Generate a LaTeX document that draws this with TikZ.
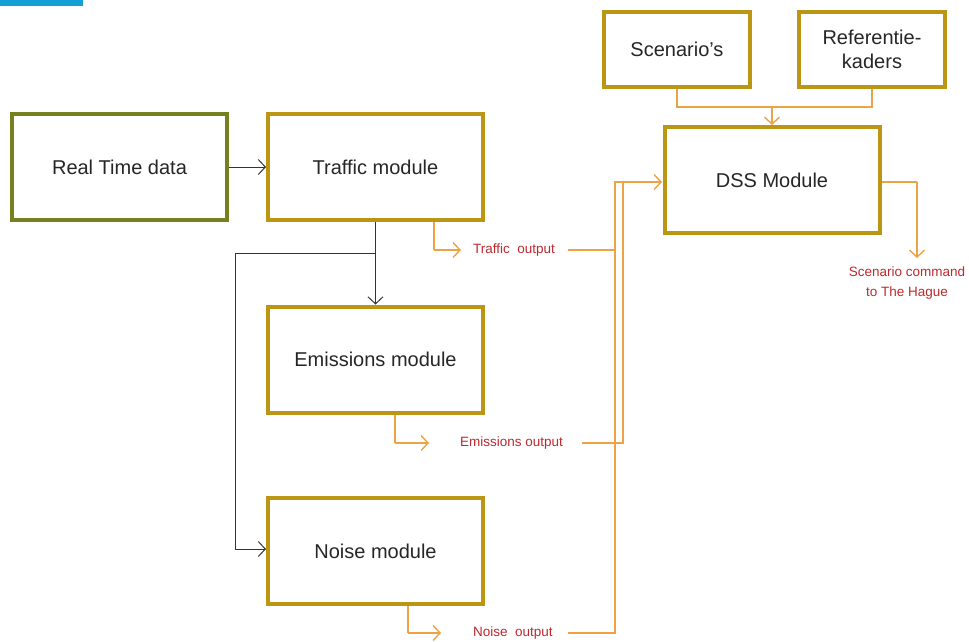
\documentclass[tikz,border=0pt]{standalone}
\usepackage{fontspec}
\setmainfont{Liberation Sans}
\usetikzlibrary{arrows.meta}
\definecolor{gold}{RGB}{186,150,20}
\definecolor{olive}{RGB}{118,128,30}
\definecolor{orng}{RGB}{238,162,70}
\definecolor{redtxt}{RGB}{190,40,45}
\definecolor{bluebar}{RGB}{22,158,214}
\tikzset{
  box/.style={draw=gold, line width=4pt, minimum width=215pt, minimum height=106pt, inner sep=0pt, font=\fontsize{20}{24}\selectfont, text=black!85},
  smallbox/.style={box, minimum width=146pt, minimum height=75pt, align=center},
  outlbl/.style={text=redtxt, font=\fontsize{13.5}{16}\selectfont, inner sep=0pt},
  oline/.style={draw=orng, line width=1.4pt},
  oarr/.style={oline, -{Straight Barb[length=7pt,width=15pt]}},
  barr/.style={draw=black!80, line width=1pt, -{Straight Barb[length=7pt,width=15pt]}},
  bline/.style={draw=black!80, line width=1pt},
}
\begin{document}
\begin{tikzpicture}[x=1pt,y=-1pt]
\useasboundingbox (0,0) rectangle (969,641);
\fill[bluebar] (0,0) rectangle (83,6);
% boxes
\node[box, draw=olive] (rt) at (119.5,167) {Real Time data};
\node[box] (tr) at (375.5,167) {Traffic module};
\node[box] (em) at (375.5,359.5) {Emissions module};
\node[box] (no) at (375.5,551) {Noise module};
\node[box] (dss) at (772,180) {DSS Module};
\node[smallbox] (sc) at (677,49.5) {Scenario’s};
\node[smallbox] (rk) at (872,49.5) {Referentie-\\kaders};
% labels
\node[outlbl, anchor=west] (tout) at (473,250) {Traffic\ \ output};
\node[outlbl, anchor=west] (eout) at (460,443) {Emissions output};
\node[outlbl, anchor=west] (nout) at (473,633) {Noise\ \ output};
\node[outlbl, align=center, font=\fontsize{13.5}{20}\selectfont] (cmd) at (907,283) {Scenario command\\to The Hague};
% coordinates
\coordinate (tdown) at (434,222);
\coordinate (tcorner) at (434,250);
\coordinate (ttip) at (461,250);
\coordinate (edown) at (395,415);
\coordinate (ecorner) at (395,443);
\coordinate (etip) at (429,443);
\coordinate (ndown) at (408,606);
\coordinate (ncorner) at (408,633);
\coordinate (ntip) at (441,633);
\coordinate (tend) at (568,250);
\coordinate (eend) at (582,443);
\coordinate (nend) at (568,633);
\coordinate (busA1) at (615,182);
\coordinate (busA2) at (615,633);
\coordinate (busB2) at (623,443);
\coordinate (busB1) at (623,182);
\coordinate (tr2) at (615,250);
\coordinate (dssin) at (662,182);
\coordinate (split) at (375.5,253);
\coordinate (left1) at (235,253);
\coordinate (left2) at (235,549);
\coordinate (noin) at (266,549);
\coordinate (scd) at (677,107);
\coordinate (rkd) at (872,107);
\coordinate (mid) at (772,107);
\coordinate (dssout) at (917,182);
\coordinate (cmdtip) at (917,258);
% black connectors
\draw[barr] (rt.east) -- (tr.west);
\draw[barr] (tr.south) -- (em.north);
\draw[bline] (split) -- (left1) -- (left2);
\draw[barr] (left2) -- (noin);
% orange output arrows
\draw[oline] (tdown) -- (tcorner);
\draw[oarr] (tcorner) -- (ttip);
\draw[oline] (edown) -- (ecorner);
\draw[oarr] (ecorner) -- (etip);
\draw[oline] (ndown) -- (ncorner);
\draw[oarr] (ncorner) -- (ntip);
% bus lines
\draw[oline] (tend) -- (tr2);
\draw[oline] (nend) -- (busA2) -- (busA1) -- (busB1);
\draw[oline] (eend) -- (busB2) -- (busB1);
\draw[oarr] (busA1) -- (dssin);
% top inputs
\draw[oline] (sc.south) -- (scd) -- (rkd) -- (rk.south);
\draw[oarr] (mid) -- (dss.north);
% output
\draw[oline] (dss.east |- dssout) -- (dssout);
\draw[oarr] (dssout) -- (cmdtip);
\end{tikzpicture}
\end{document}
